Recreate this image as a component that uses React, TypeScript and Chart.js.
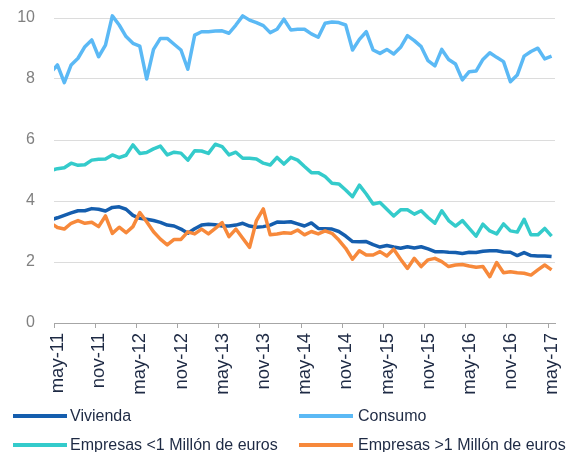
import React, { useEffect, useRef } from "react";
import { Chart, registerables } from "chart.js";

Chart.register(...registerables);

// Monthly series. The first value is abr-11 (mid-month, partly before the axis start on 1 may-11).
const TICK_LABELS = [
  "may-11", "nov-11", "may-12", "nov-12", "may-13", "nov-13", "may-14",
  "nov-14", "may-15", "nov-15", "may-16", "nov-16", "may-17",
];

const SERIES_NAMES = [
  "Vivienda",
  "Consumo",
  "Empresas <1 Millón de euros",
  "Empresas >1 Millón de euros",
];

const VIVIENDA = [
  3.38,
  3.45, 3.53, 3.61, 3.68, 3.68, 3.75, 3.73, 3.67, 3.79, 3.81,
  3.73, 3.53, 3.43, 3.40, 3.36, 3.30, 3.21, 3.18, 3.08, 2.94,
  3.09, 3.21, 3.24, 3.22, 3.18, 3.18, 3.21, 3.27, 3.18, 3.14,
  3.16, 3.21, 3.31, 3.30, 3.32, 3.25, 3.18, 3.28, 3.10, 3.09,
  3.08, 3.00, 2.85, 2.67, 2.66, 2.67, 2.57, 2.49, 2.54, 2.49,
  2.45, 2.50, 2.46, 2.50, 2.43, 2.34, 2.34, 2.32, 2.31, 2.28,
  2.32, 2.31, 2.35, 2.37, 2.37, 2.33, 2.32, 2.21, 2.31, 2.21,
  2.20, 2.20, 2.18,
];

const CONSUMO = [
  8.21,
  8.46, 7.88, 8.46, 8.68, 9.06, 9.28, 8.73, 9.11, 10.07, 9.77,
  9.39, 9.17, 9.08, 8.00, 8.97, 9.33, 9.33, 9.14, 8.95, 8.32,
  9.44, 9.55, 9.55, 9.57, 9.58, 9.50, 9.77, 10.07, 9.93, 9.85,
  9.75, 9.52, 9.63, 9.96, 9.61, 9.63, 9.63, 9.48, 9.37, 9.83,
  9.87, 9.85, 9.77, 8.95, 9.30, 9.55, 8.95, 8.84, 8.97, 8.82,
  9.04, 9.42, 9.26, 9.06, 8.60, 8.43, 8.97, 8.64, 8.49, 7.97,
  8.24, 8.26, 8.64, 8.86, 8.71, 8.57, 7.91, 8.13, 8.75, 8.90,
  9.01, 8.66, 8.75,
];

const EMPRESAS_MENOS_1M = [
  5.0,
  5.06, 5.09, 5.24, 5.17, 5.19, 5.34, 5.37, 5.38, 5.51, 5.42,
  5.50, 5.84, 5.56, 5.59, 5.71, 5.80, 5.51, 5.60, 5.57, 5.34,
  5.65, 5.64, 5.56, 5.86, 5.78, 5.51, 5.60, 5.40, 5.40, 5.38,
  5.24, 5.18, 5.43, 5.21, 5.43, 5.34, 5.13, 4.93, 4.93, 4.80,
  4.58, 4.56, 4.36, 4.14, 4.52, 4.23, 3.90, 3.95, 3.73, 3.51,
  3.71, 3.71, 3.57, 3.68, 3.46, 3.27, 3.68, 3.36, 3.18, 3.36,
  3.10, 2.85, 3.24, 3.02, 2.92, 3.25, 3.02, 2.98, 3.40, 2.89,
  2.89, 3.10, 2.85,
];

const EMPRESAS_MAS_1M = [
  3.28,
  3.13, 3.08, 3.27, 3.36, 3.27, 3.30, 3.16, 3.51, 2.94, 3.14,
  2.96, 3.16, 3.62, 3.32, 2.99, 2.75, 2.56, 2.74, 2.74, 2.99,
  2.92, 3.08, 2.92, 3.10, 3.29, 2.83, 3.08, 2.78, 2.48, 3.36,
  3.74, 2.89, 2.92, 2.96, 2.94, 3.05, 2.89, 3.00, 2.92, 3.02,
  2.94, 2.72, 2.45, 2.09, 2.37, 2.23, 2.23, 2.34, 2.20, 2.42,
  2.09, 1.79, 2.12, 1.85, 2.07, 2.12, 2.01, 1.85, 1.90, 1.92,
  1.87, 1.83, 1.85, 1.52, 1.98, 1.65, 1.68, 1.65, 1.63, 1.57,
  1.74, 1.90, 1.74,
];

const COLORS = ["#155EAE", "#5BB9F5", "#34CBCB", "#F7893B"];
const SERIES = [VIVIENDA, CONSUMO, EMPRESAS_MENOS_1M, EMPRESAS_MAS_1M];
const DRAW_ORDER = [1, 1, 1, 0];

const FONT = '"Liberation Sans", Arial, sans-serif';
const TEXT_COLOR = "#1E2A44";

// month offset: value k sits mid-month, k=0 being abr-11, axis 0 = 1 may-11
const toPoints = (vals: number[]) => vals.map((y, k) => ({ x: k - 0.5, y }));

export default function App() {
  const ref = useRef<HTMLCanvasElement | null>(null);

  useEffect(() => {
    if (!ref.current) return;
    const chart = new Chart(ref.current, {
      type: "line",
      data: {
        datasets: SERIES.map((vals, i) => ({
          label: SERIES_NAMES[i],
          data: toPoints(vals),
          borderColor: COLORS[i],
          backgroundColor: COLORS[i],
          borderWidth: 3.5,
          pointRadius: 0,
          tension: 0,
          borderJoinStyle: "round" as const,
          borderCapStyle: "butt" as const,
          order: DRAW_ORDER[i],
          clip: { left: 0, right: 2, top: false, bottom: 0 } as any,
        })),
      },
      options: {
        responsive: false,
        animation: false,
        devicePixelRatio: 1,
        layout: { padding: { left: 0, top: 18, right: 30, bottom: 49 } },
        plugins: {
          legend: { display: false },
          tooltip: { enabled: false },
        },
        scales: {
          x: {
            type: "linear",
            min: 0,
            max: 73,
            afterBuildTicks: (scale: any) => {
              scale.ticks = TICK_LABELS.map((_, j) => ({ value: j * 6 }));
            },
            afterFit: (scale: any) => {
              scale.height = 80;
            },
            ticks: {
              autoSkip: false,
              minRotation: 90,
              maxRotation: 90,
              padding: 5,
              labelOffset: 4,
              color: TEXT_COLOR,
              font: { family: FONT, size: 18.5 },
              callback: (v: any) => TICK_LABELS[Math.round(Number(v) / 6)],
            },
            grid: {
              drawOnChartArea: false,
              drawTicks: true,
              tickLength: 5,
              color: "#a6a6a6",
            },
            border: { display: true, color: "#a6a6a6", width: 1 },
          },
          y: {
            min: 0,
            max: 10,
            afterFit: (scale: any) => {
              scale.width = 54;
              scale.paddingTop = 0;
              scale.paddingBottom = 0;
            },
            ticks: {
              stepSize: 2,
              padding: 19,
              color: "#808080",
              font: { family: FONT, size: 16 },
            },
            grid: { color: "#dcdcdc", drawTicks: false },
            border: { display: false },
          },
        },
      },
    });
    return () => chart.destroy();
  }, []);

  const legendRows = [
    { idx: 0, left: 13, textLeft: 70, top: 406, lineTop: 413.5 },
    { idx: 1, left: 299, textLeft: 358, top: 406, lineTop: 413.5 },
    { idx: 2, left: 13, textLeft: 70, top: 435, lineTop: 443 },
    { idx: 3, left: 299, textLeft: 358, top: 435, lineTop: 443 },
  ];

  return (
    <div
      style={{
        position: "fixed",
        left: 0,
        top: 0,
        width: 585,
        height: 452,
        background: "#ffffff",
        overflow: "hidden",
      }}
    >
      <canvas ref={ref} width={585} height={452} style={{ display: "block" }} />
      {legendRows.map((r) => (
        <React.Fragment key={r.idx}>
          <div
            style={{
              position: "absolute",
              left: r.left,
              top: r.lineTop,
              width: 54,
              height: 4,
              background: COLORS[r.idx],
            }}
          />
          <div
            style={{
              position: "absolute",
              left: r.textLeft,
              top: r.top,
              fontFamily: FONT,
              fontSize: 16,
              lineHeight: "20px",
              color: TEXT_COLOR,
              whiteSpace: "nowrap",
            }}
          >
            {SERIES_NAMES[r.idx]}
          </div>
        </React.Fragment>
      ))}
    </div>
  );
}
